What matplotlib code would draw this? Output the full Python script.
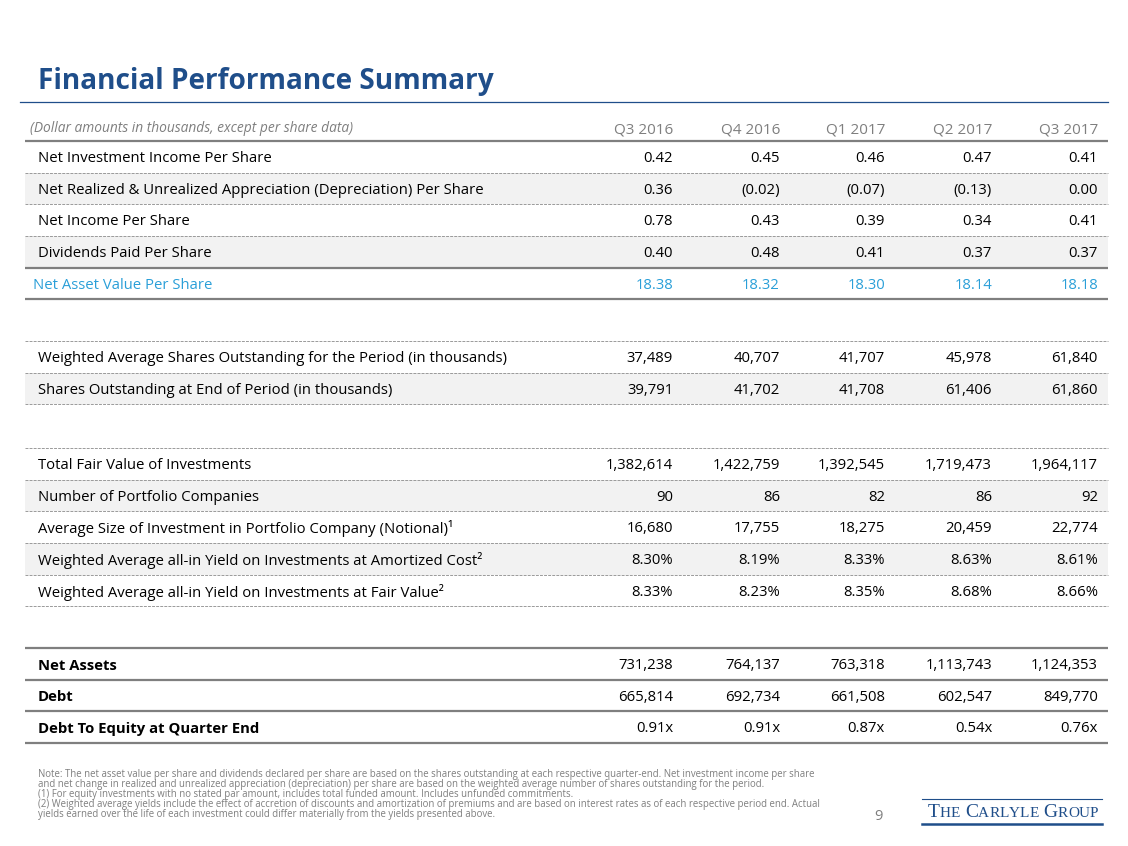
#!/usr/bin/env python3
import matplotlib
matplotlib.use('Agg')
import matplotlib.pyplot as plt
import numpy as np

plt.rcParams['font.family'] = ['Open Sans', 'DejaVu Sans']

quarters = ['Q3 2016', 'Q4 2016', 'Q1 2017', 'Q2 2017', 'Q3 2017']

# per share data
nii_per_share = [0.42, 0.45, 0.46, 0.47, 0.41]
appreciation_per_share = [0.36, -0.02, -0.07, -0.13, 0.00]
net_income_per_share = [0.78, 0.43, 0.39, 0.34, 0.41]
dividends_per_share = [0.40, 0.48, 0.41, 0.37, 0.37]
nav_per_share = [18.38, 18.32, 18.30, 18.14, 18.18]

# shares (thousands)
weighted_avg_shares = [37489, 40707, 41707, 45978, 61840]
shares_end_of_period = [39791, 41702, 41708, 61406, 61860]

# portfolio
total_fair_value = [1382614, 1422759, 1392545, 1719473, 1964117]
portfolio_companies = [90, 86, 82, 86, 92]
avg_investment_size = [16680, 17755, 18275, 20459, 22774]
yield_amortized_cost = [8.30, 8.19, 8.33, 8.63, 8.61]
yield_fair_value = [8.33, 8.23, 8.35, 8.68, 8.66]

# balance sheet
net_assets = [731238, 764137, 763318, 1113743, 1124353]
debt = [665814, 692734, 661508, 602547, 849770]
debt_to_equity = [0.91, 0.91, 0.87, 0.54, 0.76]

footnotes = [
    'Note: The net asset value per share and dividends declared per share are based on the shares outstanding at each respective quarter-end. Net investment income per share',
    'and net change in realized and unrealized appreciation (depreciation) per share are based on the weighted average number of shares outstanding for the period.',
    '(1) For equity investments with no stated par amount, includes total funded amount. Includes unfunded commitments.',
    '(2) Weighted average yields include the effect of accretion of discounts and amortization of premiums and are based on interest rates as of each respective period end. Actual',
    'yields earned over the life of each investment could differ materially from the yields presented above.',
]

TITLE_BLUE = '#1f4e8a'
LIGHT_BLUE = '#2a9fd8'
GRAY_TEXT = '#7f7f7f'
LINE_GRAY = '#7f7f7f'
DASH_GRAY = '#9a9a9a'
SHADE = '#f2f2f2'


def fmt_ps(v):
    return '({:.2f})'.format(-v) if v < 0 else '{:.2f}'.format(v)

def fmt_int(v):
    return '{:,}'.format(v)

def fmt_pct(v):
    return '{:.2f}%'.format(v)

def fmt_x(v):
    return '{:.2f}x'.format(v)


# sections: rows of (label, values, formatter), line style per boundary, shaded rows
sections = [
    dict(top=141, rows=[
        ('Net Investment Income Per Share', nii_per_share, fmt_ps),
        ('Net Realized & Unrealized Appreciation (Depreciation) Per Share', appreciation_per_share, fmt_ps),
        ('Net Income Per Share', net_income_per_share, fmt_ps),
        ('Dividends Paid Per Share', dividends_per_share, fmt_ps),
        ('Net Asset Value Per Share', nav_per_share, fmt_ps),
    ], lines=['solid', 'dash', 'dash', 'dash', 'solid', 'solid'], shaded=[1, 3], highlight=[4], bold=False),
    dict(top=341, rows=[
        ('Weighted Average Shares Outstanding for the Period (in thousands)', weighted_avg_shares, fmt_int),
        ('Shares Outstanding at End of Period (in thousands)', shares_end_of_period, fmt_int),
    ], lines=['dash', 'dash', 'dash'], shaded=[1], highlight=[], bold=False),
    dict(top=448, rows=[
        ('Total Fair Value of Investments', total_fair_value, fmt_int),
        ('Number of Portfolio Companies', portfolio_companies, fmt_int),
        ('Average Size of Investment in Portfolio Company (Notional)¹', avg_investment_size, fmt_int),
        ('Weighted Average all-in Yield on Investments at Amortized Cost²', yield_amortized_cost, fmt_pct),
        ('Weighted Average all-in Yield on Investments at Fair Value²', yield_fair_value, fmt_pct),
    ], lines=['dash'] * 6, shaded=[1, 3], highlight=[], bold=False),
    dict(top=648, rows=[
        ('Net Assets', net_assets, fmt_int),
        ('Debt', debt, fmt_int),
        ('Debt To Equity at Quarter End', debt_to_equity, fmt_x),
    ], lines=['solid'] * 4, shaded=[], highlight=[], bold=True),
]

ROW_H = 31.65
X0, X1 = 25, 1108
col_right = [673, 780, 885, 992, 1098]
FS = 10.75

fig = plt.figure(figsize=(11.28, 8.46), dpi=100)
ax = fig.add_axes([0, 0, 1, 1])
ax.set_xlim(0, 1128)
ax.set_ylim(846, 0)
ax.axis('off')

# title
ax.text(38, 81, 'Financial Performance Summary', fontsize=20.2, fontweight='bold',
        color=TITLE_BLUE, va='center', ha='left')
ax.plot([20, 1108], [102, 102], color=TITLE_BLUE, lw=0.9)

# header
ax.text(30, 129, '(Dollar amounts in thousands, except per share data)', fontsize=9.9,
        style='italic', color=GRAY_TEXT, va='center')
for q, xr in zip(quarters, col_right):
    ax.text(xr, 130, q, fontsize=11, color=GRAY_TEXT, ha='right', va='center')

for sec in sections:
    top = sec['top']
    for i in sec['shaded']:
        ax.fill_between([X0, X1], top + i * ROW_H, top + (i + 1) * ROW_H,
                        color=SHADE, lw=0, zorder=0)
    for i, style in enumerate(sec['lines']):
        y = top + i * ROW_H
        if style == 'solid':
            ax.plot([X0, X1], [y, y], color=LINE_GRAY, lw=1.6, zorder=2,
                    solid_capstyle='butt')
        else:
            ax.plot([X0, X1], [y, y], color=DASH_GRAY, lw=0.7, zorder=2,
                    linestyle=(0, (3, 1.2)))
    for i, (label, vals, fmt) in enumerate(sec['rows']):
        yc = top + (i + 0.5) * ROW_H + 1.8
        color = LIGHT_BLUE if i in sec['highlight'] else 'black'
        lx = 33 if i in sec['highlight'] else 38
        weight = 'bold' if sec['bold'] else 'normal'
        ax.text(lx, yc, label, fontsize=FS, color=color, fontweight=weight,
                va='center', ha='left', zorder=3)
        for v, xr in zip(vals, col_right):
            ax.text(xr, yc, fmt(v), fontsize=FS, color=color, va='center',
                    ha='right', zorder=3)

# footnotes
for k, line in enumerate(footnotes):
    ax.text(38, 775 + k * 10, line, fontsize=6.9, color=GRAY_TEXT, va='center', ha='left')

# page number
ax.text(878, 816, '9', fontsize=10.5, color=GRAY_TEXT, ha='center', va='center')

# logo, drawn as small caps
renderer = fig.canvas.get_renderer()
ax.plot([922, 1102], [799, 799], color=TITLE_BLUE, lw=0.8)
ax.plot([922, 1102], [824, 824], color=TITLE_BLUE, lw=1.8)
x = 928
for w, word in enumerate('The Carlyle Group'.split()):
    if w:
        x += 5
    for ch in word:
        size = 14 if ch.isupper() else 11
        t = ax.text(x, 817, ch.upper(), fontsize=size, family='Liberation Serif',
                    color=TITLE_BLUE, ha='left', va='baseline')
        x += t.get_window_extent(renderer).width

fig.savefig('out.png', dpi=100)
